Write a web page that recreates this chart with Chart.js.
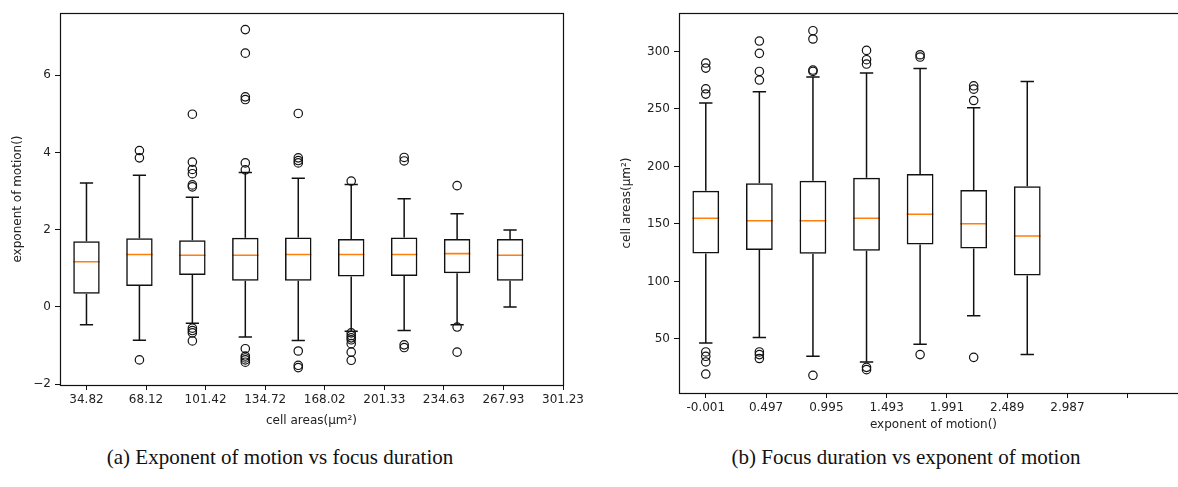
<!DOCTYPE html>
<html>
<head>
<meta charset="utf-8">
<script src="https://cdn.jsdelivr.net/npm/chart.js@4.4.1/dist/chart.umd.min.js"></script>
<style>
  html, body { margin: 0; padding: 0; background: #fff; width: 1178px; height: 487px; overflow: hidden; }
  #wrapA { position: absolute; left: 0; top: 0; width: 600px; height: 428px; }
  #wrapB { position: absolute; left: 600px; top: 0; width: 600px; height: 432px; }
  .cap { position: absolute; top: 445px; font-family: "Liberation Serif", serif; font-size: 21px; color: #111; text-align: center; white-space: nowrap; }
</style>
</head>
<body>
<div id="wrapA"><canvas id="chartA"></canvas></div>
<div id="wrapB"><canvas id="chartB"></canvas></div>
<div class="cap" style="left:80px;width:400px;">(a) Exponent of motion vs focus duration</div>
<div class="cap" style="left:706px;width:400px;">(b) Focus duration vs exponent of motion</div>
<script>
// (a) exponent of motion, grouped by cell area
const areaLabels = ['34.82', '68.12', '101.42', '134.72', '168.02', '201.33', '234.63', '267.93', '301.23'];
const aLow  = [-0.46, -0.86, -0.42, -0.78, -0.87, -0.63, -0.61, -0.46, 0.00];
const aQ1   = [0.34, 0.54, 0.83, 0.68, 0.68, 0.79, 0.80, 0.87, 0.68];
const aMed  = [1.17, 1.36, 1.34, 1.34, 1.36, 1.36, 1.36, 1.38, 1.34];
const aQ3   = [1.70, 1.78, 1.73, 1.79, 1.80, 1.76, 1.80, 1.76, 1.76];
const aHigh = [3.21, 3.41, 2.84, 3.48, 3.33, 3.17, 2.80, 2.41, 1.99];
const aOut = [
  [],
  [4.05, 3.86, -1.37],
  [4.99, 3.75, 3.56, 3.45, 3.16, 3.11, -0.55, -0.61, -0.67, -0.88],
  [7.18, 6.57, 5.44, 5.37, 3.73, 3.55, -1.08, -1.27, -1.32, -1.37, -1.43],
  [5.01, 3.86, 3.79, 3.73, -1.14, -1.51, -1.57],
  [3.26, -0.67, -0.74, -0.80, -0.85, -0.95, -1.17, -1.38],
  [3.87, 3.78, -0.98, -1.05],
  [3.14, -0.52, -1.17],
  []
];
const aYTicks = [-2, 0, 2, 4, 6];

// (b) cell areas, grouped by exponent of motion
const expLabels = ['-0.001', '0.497', '0.995', '1.493', '1.991', '2.489', '2.987', ''];
const bLow  = [46.5, 51.2, 34.9, 30.0, 45.4, 70.1, 36.4];
const bQ1   = [124.4, 127.3, 124.0, 126.7, 132.2, 128.7, 105.2];
const bMed  = [154.9, 152.8, 152.8, 154.9, 158.4, 150.2, 139.5];
const bQ3   = [178.9, 185.4, 187.6, 190.2, 193.5, 179.5, 182.8];
const bHigh = [255.1, 264.9, 277.7, 281.2, 285.2, 251.0, 273.9];
const bOut = [
  [289.9, 285.5, 267.5, 262.9, 38.7, 34.9, 30.0, 19.5],
  [309.0, 298.3, 282.6, 275.1, 38.7, 36.4, 33.0],
  [318.0, 310.8, 283.8, 282.6, 18.4],
  [300.9, 292.8, 289.0, 25.3, 23.3],
  [297.1, 295.1, 36.4],
  [270.1, 267.2, 257.3, 34.0],
  []
];
const bYTicks = [50, 100, 150, 200, 250, 300];

const ink = '#111';
const textCol = '#222';
const tickFont = { family: 'DejaVu Sans', size: 12 };

// black frame round the plot area (matplotlib spines)
const frame = {
  id: 'frame',
  afterDraw(chart) {
    const a = chart.chartArea, c = chart.ctx;
    c.save();
    c.strokeStyle = ink;
    c.lineWidth = 1.2;
    c.strokeRect(Math.round(a.left) + 0.5, Math.round(a.top) + 0.5, Math.round(a.right - a.left), Math.round(a.bottom - a.top));
    c.restore();
  }
};

function boxChart(id, o) {
  const n = o.q1.length;
  const whisk = [], caps = [], meds = [], outs = [];
  for (let i = 0; i < n; i++) {
    const p = i + 1;
    whisk.push({x: p, y: o.q3[i]}, {x: p, y: o.hi[i]}, {x: p, y: null},
               {x: p, y: o.q1[i]}, {x: p, y: o.lo[i]}, {x: p, y: null});
    caps.push({x: p - 0.125, y: o.hi[i]}, {x: p + 0.125, y: o.hi[i]}, {x: p, y: null},
              {x: p - 0.125, y: o.lo[i]}, {x: p + 0.125, y: o.lo[i]}, {x: p, y: null});
    meds.push({x: p - 0.25, y: o.med[i]}, {x: p + 0.25, y: o.med[i]}, {x: p, y: null});
    o.out[i].forEach(v => outs.push({x: p, y: v}));
  }
  const lineDs = (data, color, w) => ({
    type: 'line', data: data, borderColor: color, borderWidth: w,
    pointRadius: 0, pointHitRadius: 0, fill: false, spanGaps: false, tension: 0
  });
  const xTickPos = o.xLabels.map((_, i) => 1 + i * 1.125);

  return new Chart(document.getElementById(id), {
    type: 'bar',
    data: {
      datasets: [
        {
          type: 'bar',
          data: o.q1.map((q, i) => ({x: i + 1, y: [q, o.q3[i]]})),
          backgroundColor: 'rgba(255,255,255,0)',
          borderColor: ink, borderWidth: 1.5, borderSkipped: false,
          categoryPercentage: 1, barPercentage: 0.5
        },
        lineDs(whisk, ink, 1.5),
        lineDs(caps, ink, 1.5),
        lineDs(meds, '#ff7f0e', 1.6),
        {
          type: 'scatter', data: outs, pointStyle: 'circle', pointRadius: 4.2,
          backgroundColor: 'rgba(255,255,255,0)', borderColor: ink, borderWidth: 1.2
        }
      ]
    },
    options: {
      responsive: true,
      maintainAspectRatio: false,
      animation: false,
      layout: { padding: o.pad },
      plugins: { legend: { display: false }, tooltip: { enabled: false } },
      scales: {
        x: {
          type: 'linear', offset: false, min: 0.5, max: o.xMax,
          afterBuildTicks: s => { s.ticks = xTickPos.map(v => ({value: v})); },
          afterFit: s => { s.height = o.xH; },
          ticks: {
            autoSkip: false, maxRotation: 0, padding: 3, color: textCol, font: tickFont,
            callback: (v, i) => o.xLabels[i]
          },
          grid: { display: true, offset: false, drawOnChartArea: false, drawTicks: true, tickLength: 5, color: ink },
          border: { display: false },
          title: { display: true, text: o.xTitle, color: textCol, font: tickFont, padding: 0 }
        },
        y: {
          type: 'linear', min: o.yMin, max: o.yMax,
          afterBuildTicks: s => { s.ticks = o.yTicks.map(v => ({value: v})); },
          afterFit: s => { s.width = o.yW; },
          ticks: {
            padding: 4, color: textCol, font: tickFont,
            callback: v => (v < 0 ? '\u2212' + Math.abs(v) : String(v))
          },
          grid: { display: true, drawOnChartArea: false, drawTicks: true, tickLength: 5, color: ink },
          border: { display: false },
          title: { display: true, text: o.yTitle, color: textCol, font: tickFont, padding: { top: o.yTitlePad, bottom: 0 } }
        }
      }
    },
    plugins: [frame]
  });
}

boxChart('chartA', {
  q1: aQ1, q3: aQ3, med: aMed, lo: aLow, hi: aHigh, out: aOut,
  xLabels: areaLabels, xMax: 10, yMin: -2.02, yMax: 7.61, yTicks: aYTicks,
  xTitle: 'cell areas(\u03bcm\u00b2)', yTitle: 'exponent of motion()',
  pad: { top: 13, right: 37, bottom: 0, left: 0 }, xH: 43, yW: 60, yTitlePad: 11
});

boxChart('chartB', {
  q1: bQ1, q3: bQ3, med: bMed, lo: bLow, hi: bHigh, out: bOut,
  xLabels: expLabels, xMax: 10, yMin: 3, yMax: 333.4, yTicks: bYTicks,
  xTitle: 'exponent of motion()', yTitle: 'cell areas(\u03bcm\u00b2)',
  pad: { top: 13, right: 12, bottom: 0, left: 0 }, xH: 39, yW: 79, yTitlePad: 20
});
</script>
</body>
</html>
